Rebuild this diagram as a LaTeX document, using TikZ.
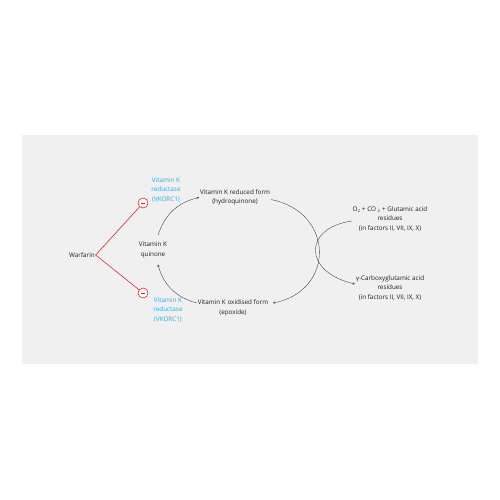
\documentclass[tikz,border=0pt]{standalone}
\usepackage{fontspec}
\setmainfont{Open Sans}
\usetikzlibrary{shapes.geometric, arrows}
\definecolor{panelgray}{RGB}{240, 240, 240}
\definecolor{textgray}{RGB}{30, 30, 30}
\definecolor{enzblue}{RGB}{41, 171, 226}
\definecolor{inhred}{RGB}{228, 30, 38}
\tikzstyle{label} = [align=center, text=textgray, inner sep=1pt,
                     font=\fontsize{9}{13.5}\selectfont]
\tikzstyle{enzyme} = [label, text=enzblue]
\tikzstyle{inhibit} = [circle, draw=inhred, fill=white, line width=0.8pt,
                       minimum size=5mm, inner sep=0pt]
\tikzstyle{arrow} = [thin, textgray, ->, >=stealth]

\begin{document}
\begin{tikzpicture}[x=0.5mm, y=0.5mm]
        \useasboundingbox (0,0) rectangle (500,-500);
        \fill[panelgray] (22,-135) rectangle (478,-364);

        \node (Warfarin) [label] at (82,-255) {Warfarin};

        \node (Quinone) [label] at (153,-250) {Vitamin K\\quinone};

        \node (Reduced) [label] at (235,-197.5) {Vitamin K reduced form\\(hydroquinone)};

        \node (Oxidised) [label] at (233,-308) {Vitamin K oxidised form\\(epoxide)};

        \node (Reductase1) [enzyme] at (166,-190) {Vitamin K\\reductase\\(VKORC1)};

        \node (Reductase2) [enzyme] at (168,-310) {Vitamin K\\reductase\\(VKORC1)};

        \node (Glutamic) [label] at (390,-219) {O\textsubscript{2} + CO \textsubscript{2} + Glutamic acid\\residues\\(in factors II, VII, IX, X)};

        \node (Carboxy) [label] at (390,-288) {γ-Carboxyglutamic acid\\residues\\(in factors II, VII, IX, X)};

        \node (Inhibit1) [inhibit] at (143,-203) {};
        \node (Inhibit2) [inhibit] at (143,-293) {};

        % warfarin blocks both reductase steps
        \draw [inhred, line width=0.8pt] (Inhibit1) -- (Warfarin.east) -- (Inhibit2);
        \draw [inhred, line width=0.9pt] ([xshift=-1.2mm]Inhibit1.center) -- ([xshift=1.2mm]Inhibit1.center);
        \draw [inhred, line width=0.9pt] ([xshift=-1.2mm]Inhibit2.center) -- ([xshift=1.2mm]Inhibit2.center);

        % vitamin K cycle
        \draw [arrow] ([xshift=2.5mm,yshift=3mm]Quinone.north) to[bend left=30] (Reduced.west);
        \draw [arrow] ([yshift=2.5mm]Oxidised.west) to[bend left=30] ([xshift=2.5mm,yshift=-3mm]Quinone.south);
        \draw [arrow] ([yshift=-1mm]Reduced.east) .. controls (335,-212) and (335,-291) .. ([xshift=2mm,yshift=2.5mm]Oxidised.east);
        \draw [arrow] ([yshift=-1mm]Glutamic.west) .. controls (303,-228) and (303,-272) .. ([yshift=2mm]Carboxy.west);

    \end{tikzpicture}
\end{document}
